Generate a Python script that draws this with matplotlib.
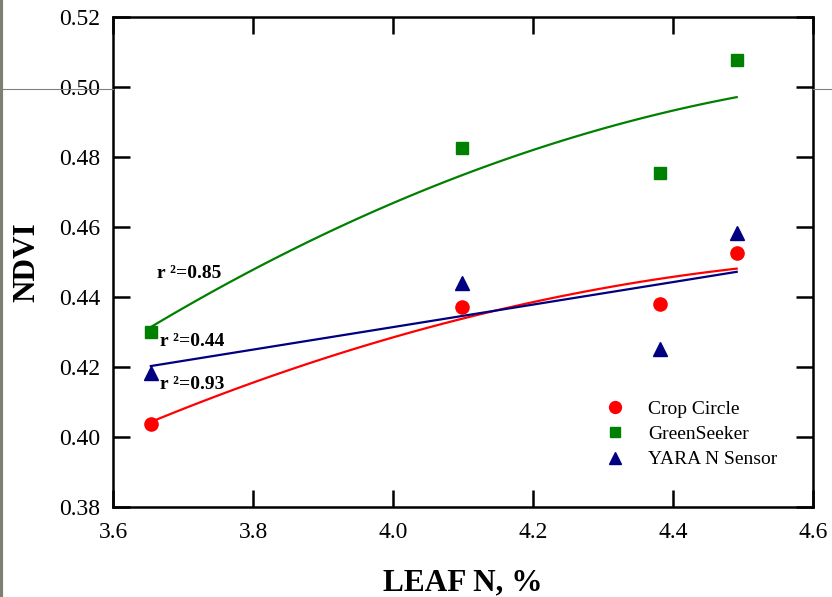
import numpy as np
import matplotlib
matplotlib.use("Agg")
import matplotlib.pyplot as plt
from matplotlib.lines import Line2D

plt.rcParams['font.family'] = ['Liberation Serif', 'DejaVu Serif']

# data
leaf_n = [3.654, 4.099, 4.381, 4.491]
crop_circle = [0.4037, 0.4371, 0.4380, 0.4526]
green_seeker = [0.4300, 0.4826, 0.4754, 0.5077]
yara = [0.4183, 0.4440, 0.4251, 0.4583]

x_ticks = [3.6, 3.8, 4.0, 4.2, 4.4, 4.6]
y_ticks = [0.38, 0.40, 0.42, 0.44, 0.46, 0.48, 0.50, 0.52]

fig = plt.figure(figsize=(8.32, 5.97), dpi=100)
ax = fig.add_axes([113 / 832, 1 - 507 / 597, 700 / 832, 490 / 597])

# fitted trend lines
xs = np.linspace(min(leaf_n), max(leaf_n), 100)
red_fit = np.polyfit(leaf_n, crop_circle, 2)
green_fit = np.polyfit(leaf_n, green_seeker, 2)
blue_fit = np.polyfit(leaf_n, yara, 1)
ax.plot(xs, np.polyval(green_fit, xs), color='#008000', lw=1.6)
ax.plot(xs, np.polyval(red_fit, xs), color='#ff0000', lw=1.6)
ax.plot(xs, np.polyval(blue_fit, xs), color='#000080', lw=1.6)

ax.plot(leaf_n, crop_circle, 'o', color='#ff0000', ms=9.5, ls='none', label='Crop Circle')
ax.plot(leaf_n, green_seeker, 's', color='#008000', ms=8.5, ls='none', label='GreenSeeker')
ax.plot(leaf_n, yara, '^', color='#000080', ms=9.5, ls='none', label='YARA N Sensor')

ax.set_xlim(3.6, 4.6)
ax.set_ylim(0.38, 0.52)
ax.set_xticks(x_ticks)
ax.set_yticks(y_ticks)
ax.set_xticklabels([f'{v:.1f}' for v in x_ticks])
ax.set_yticklabels([f'{v:.2f}' for v in y_ticks])
ax.tick_params(direction='in', length=12, width=1.8, labelsize=17, top=True, right=True)
ax.tick_params(axis='x', pad=11)
ax.tick_params(axis='y', pad=9)
for s in ax.spines.values():
    s.set_linewidth(1.8)

ax.set_xlabel('LEAF N, %', fontsize=22.5, fontweight='bold', labelpad=18)
ax.set_ylabel('NDVI', fontsize=22.5, fontweight='bold', labelpad=13)

ax.text(3.663, 0.4466, 'r ²=0.85', fontsize=14, fontweight='bold', va='center')
ax.text(3.667, 0.4274, 'r ²=0.44', fontsize=14, fontweight='bold', va='center')
ax.text(3.667, 0.4151, 'r ²=0.93', fontsize=14, fontweight='bold', va='center')

ax.legend(loc='lower left', bbox_to_anchor=(0.678, 0.063), borderaxespad=0, frameon=False,
          fontsize=14, handletextpad=0.7, labelspacing=0.4, markerscale=0.9)

# slide decoration lines
fig.add_artist(Line2D([0.0015, 0.0015], [0, 1], color='#7f7f70', lw=3, transform=fig.transFigure))
fig.add_artist(Line2D([0, 113 / 832], [1 - 89 / 597] * 2, color='#808080', lw=0.8, transform=fig.transFigure))
fig.add_artist(Line2D([813 / 832, 1], [1 - 89 / 597] * 2, color='#808080', lw=0.8, transform=fig.transFigure))

fig.savefig('out.png', dpi=100)
